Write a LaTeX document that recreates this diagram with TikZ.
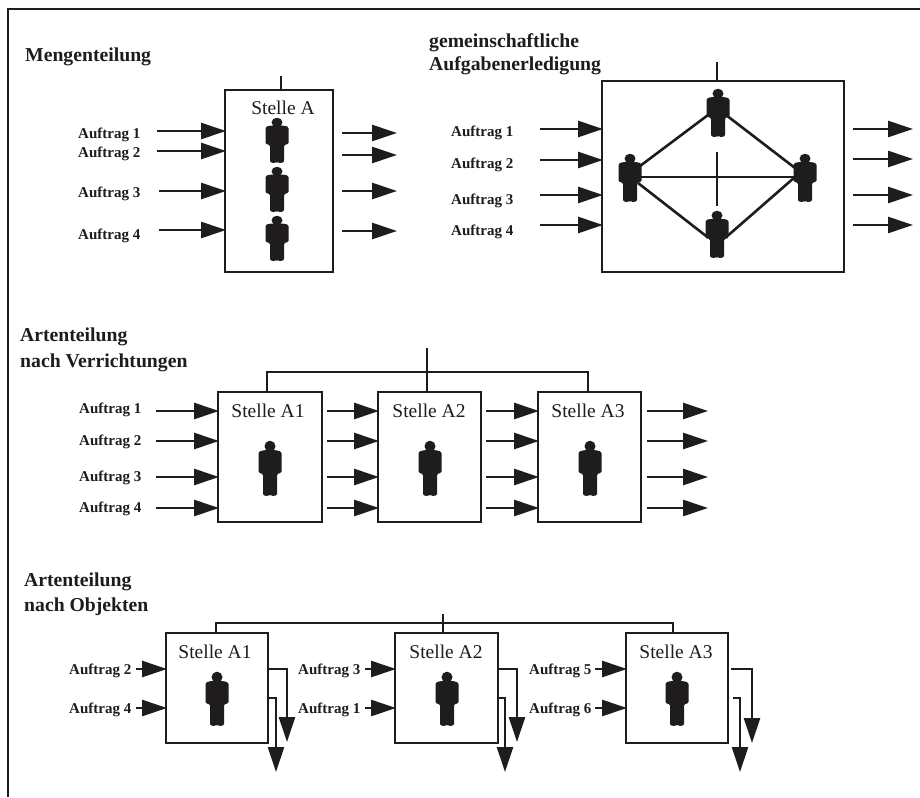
\documentclass[tikz,border=0pt]{standalone}
\usepackage{fontspec}
\setmainfont{Liberation Serif}
\usetikzlibrary{arrows.meta,calc}
\definecolor{ink}{HTML}{1E1C1D}
\tikzset{
  line/.style={draw=ink,line width=2.6pt},
  arr/.style={draw=ink,line width=2.6pt,-{Triangle[length=25pt,width=16pt,fill=ink]},shorten >=-1pt},
  box/.style={draw=ink,line width=2.8pt,rectangle,inner sep=0pt,outer sep=0pt,fill=white},
  title/.style={anchor=base west,inner sep=0pt,font=\bfseries\fontsize{19.7}{22}\selectfont,text=ink},
  job/.style={anchor=base west,inner sep=0pt,font=\bfseries\fontsize{15}{16}\selectfont,text=ink},
  stelle/.style={anchor=base,inner sep=0pt,font=\fontsize{19.5}{22}\selectfont,text=ink},
  personbox/.style={inner sep=0pt,outer sep=0pt,minimum width=23pt}
}
% name, centre x, top y, height
\newcommand\person[4]{%
  \node[personbox,minimum height=#4pt] (#1) at (#2,#3+#4/2) {};
  \begin{scope}[shift={(#2,#3)},yscale=#4/54]
    \fill[ink] (0,5.2) ellipse [x radius=5.5,y radius=5.5];
    \fill[ink,rounded corners=1.5pt] (-6,9) -- (6,9) -- (11.5,10.5) -- (11.5,31.5) -- (7,32)
      -- (7,53.5) -- (1,54) -- (0,52) -- (-1,54) -- (-7,53.5) -- (-7,32) -- (-11.5,31.5) -- (-11.5,10.5) -- cycle;
  \end{scope}}
% incoming arrow: start x, y, box
\newcommand\inarrow[3]{\coordinate (s) at (#1,#2); \draw[arr] (s) -- (s -| #3.west);}
% free arrow: x1, x2, y
\newcommand\freearrow[3]{\coordinate (s) at (#1,#3); \coordinate (e) at (#2,#3); \draw[arr] (s) -- (e);}
% down arrow out of a box: start x, y, x of shaft, tip y
\newcommand\outdown[4]{\coordinate (s) at (#1,#2); \coordinate (e) at (#3,#4); \draw[arr,rounded corners=0pt] (s) -| (e);}
\begin{document}
\begin{tikzpicture}[x=1pt,y=-1pt]
\useasboundingbox (0,0) rectangle (920,797);
\fill[white] (0,0) rectangle (920,797);
\coordinate (fa) at (8,797); \coordinate (fb) at (8,9); \coordinate (fc) at (920,9);
\draw[line] (fa) -- (fb) -- (fc);

% Mengenteilung
\node[title] (t1) at (25,62) {Mengenteilung};
\node[box,minimum width=108pt,minimum height=182pt] (A) at (279,181) {};
\coordinate (ta) at (281,76); \draw[line] (ta) -- (ta |- A.north);
\node[stelle] (lA) at (283,115) {Stelle A};
\person{pa1}{277}{118}{45}\person{pa2}{277}{167}{45}\person{pa3}{277}{216}{45}
\node[job] (a1) at (78,138) {Auftrag 1};
\node[job] (a2) at (78,157) {Auftrag 2};
\node[job] (a3) at (78,197) {Auftrag 3};
\node[job] (a4) at (78,239) {Auftrag 4};
\inarrow{157}{131}{A}\inarrow{157}{151}{A}\inarrow{159}{191}{A}\inarrow{159}{230}{A}
\freearrow{342}{396}{133}\freearrow{342}{396}{155}\freearrow{342}{396}{191}\freearrow{342}{396}{231}

% gemeinschaftliche Aufgabenerledigung
\node[title] (t2a) at (429,48) {gemeinschaftliche};
\node[title] (t2b) at (429,71) {Aufgabenerledigung};
\node[box,minimum width=242pt,minimum height=191pt] (B) at (723,176.5) {};
\coordinate (tb) at (717,62); \draw[line] (tb) -- (tb |- B.north);
\person{pt}{718}{89}{48}\person{pl}{630}{154}{48}\person{pr}{805}{154}{48}\person{pb}{717}{211}{47}
\draw[line] ([shift={(10,-12)}]pl.center) -- ([shift={(-10,2)}]pt.center);
\draw[line] ([shift={(8,2)}]pt.center) -- ([shift={(-10,-10)}]pr.center);
\draw[line] ([shift={(8,5)}]pl.center) -- ([shift={(-9,3)}]pb.center);
\draw[line] ([shift={(11,1)}]pb.center) -- ([shift={(-10,-1)}]pr.center);
\draw[line] ([yshift=1pt]pl.center) -- ([yshift=1pt]pr.center);
\coordinate (vt) at (717,152); \coordinate (vb) at (717,206); \draw[line] (vt) -- (vb);
\node[job] (b1) at (451,136) {Auftrag 1};
\node[job] (b2) at (451,168) {Auftrag 2};
\node[job] (b3) at (451,204) {Auftrag 3};
\node[job] (b4) at (451,235) {Auftrag 4};
\inarrow{540}{129}{B}\inarrow{540}{160}{B}\inarrow{540}{195}{B}\inarrow{540}{225}{B}
\freearrow{853}{912}{129}\freearrow{853}{912}{159}\freearrow{853}{912}{195}\freearrow{853}{912}{225}

% Artenteilung nach Verrichtungen
\node[title] (t3a) at (20,341) {Artenteilung};
\node[title] (t3b) at (20,367) {nach Verrichtungen};
\node[box,minimum width=104pt,minimum height=130pt] (V1) at (270,457) {};
\node[box,minimum width=103pt,minimum height=130pt] (V2) at (429.5,457) {};
\node[box,minimum width=103pt,minimum height=130pt] (V3) at (589.5,457) {};
\coordinate (vc) at (427,348); \coordinate (vl) at (267,372); \coordinate (vr) at (588,372);
\draw[line] (vc) -- (vc |- V2.north);
\draw[line] (vl |- V1.north) -- (vl) -- (vr) -- (vr |- V3.north);
\node[stelle] (lV1) at (268,417) {Stelle A1};
\node[stelle] (lV2) at (429,417) {Stelle A2};
\node[stelle] (lV3) at (588,417) {Stelle A3};
\person{pv1}{270}{441}{55}\person{pv2}{430}{441}{55}\person{pv3}{590}{441}{55}
\node[job] (v1) at (79,413) {Auftrag 1};
\node[job] (v2) at (79,445) {Auftrag 2};
\node[job] (v3) at (79,481) {Auftrag 3};
\node[job] (v4) at (79,512) {Auftrag 4};
\foreach \yy in {411,441,477,508}{
  \inarrow{156}{\yy}{V1}\inarrow{327}{\yy}{V2}\inarrow{486}{\yy}{V3}\freearrow{647}{707}{\yy}
}

% Artenteilung nach Objekten
\node[title] (t4a) at (24,586) {Artenteilung};
\node[title] (t4b) at (24,611) {nach Objekten};
\node[box,minimum width=102pt,minimum height=110pt] (O1) at (217,688) {};
\node[box,minimum width=103pt,minimum height=110pt] (O2) at (446.5,688) {};
\node[box,minimum width=102pt,minimum height=110pt] (O3) at (677,688) {};
\coordinate (oc) at (443,614); \coordinate (ol) at (216,623); \coordinate (or) at (673,623);
\draw[line] (oc) -- (oc |- O2.north);
\draw[line] (ol |- O1.north) -- (ol) -- (or) -- (or |- O3.north);
\node[stelle] (lO1) at (215,658) {Stelle A1};
\node[stelle] (lO2) at (446,658) {Stelle A2};
\node[stelle] (lO3) at (676,658) {Stelle A3};
\person{po1}{217}{672}{54}\person{po2}{447}{672}{54}\person{po3}{677}{672}{54}
\node[job] (o1) at (69,674) {Auftrag 2};
\node[job] (o2) at (69,713) {Auftrag 4};
\node[job] (o3) at (298,674) {Auftrag 3};
\node[job] (o4) at (298,713) {Auftrag 1};
\node[job] (o5) at (529,674) {Auftrag 5};
\node[job] (o6) at (529,713) {Auftrag 6};
\inarrow{136}{669}{O1}\inarrow{136}{708}{O1}
\inarrow{365}{669}{O2}\inarrow{365}{708}{O2}
\inarrow{595}{669}{O3}\inarrow{595}{708}{O3}
\outdown{268}{669}{287}{741}\outdown{268}{698}{276}{771}
\outdown{498}{669}{517}{741}\outdown{498}{698}{505}{771}
\outdown{731}{669}{752}{742}\outdown{733}{698}{740}{771}
\end{tikzpicture}
\end{document}
